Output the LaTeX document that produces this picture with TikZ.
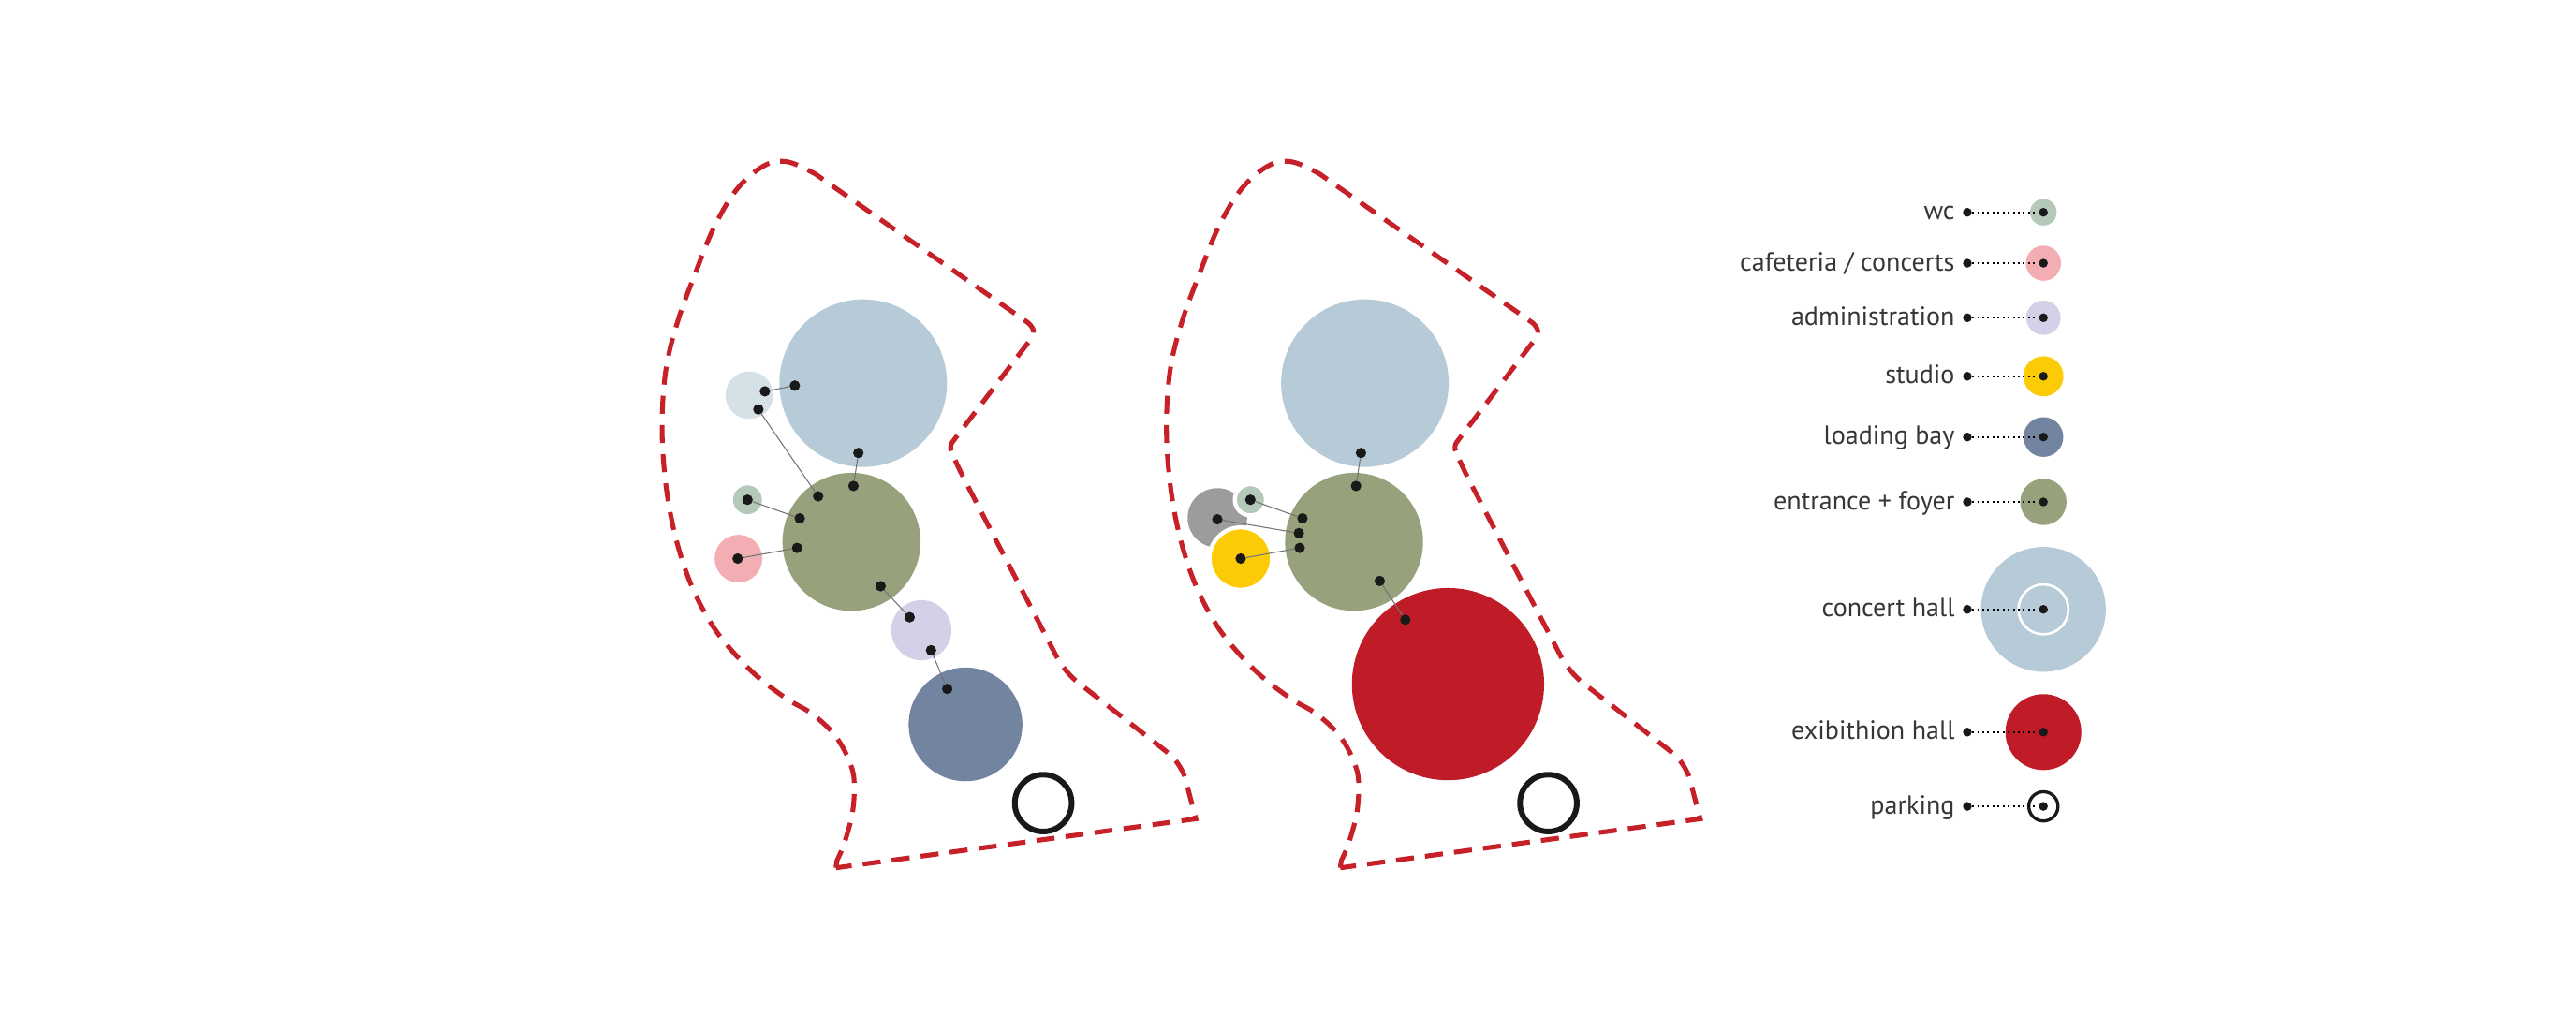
\documentclass[tikz,border=0pt]{standalone}
\usepackage{fontspec}
\setmainfont{PT Sans}
\usetikzlibrary{positioning}

\definecolor{hallblue}{HTML}{B6CAD7}
\definecolor{palehall}{HTML}{D5E1E6}
\definecolor{foyergreen}{HTML}{97A27C}
\definecolor{wcgreen}{HTML}{B5C9BA}
\definecolor{cafepink}{HTML}{F2AEB2}
\definecolor{adminlilac}{HTML}{D3D1E7}
\definecolor{loadblue}{HTML}{72849F}
\definecolor{studioyellow}{HTML}{FDCB05}
\definecolor{exhired}{HTML}{C01C28}
\definecolor{roomgrey}{HTML}{9C9C9C}
\definecolor{sitered}{HTML}{C62129}
\definecolor{textgrey}{HTML}{363636}

\begin{document}
\begin{tikzpicture}[
            x = 1pt, y = -1pt, % one unit per pixel of the sheet, y pointing down
            site/.style = {draw = sitered, line width = 2.9pt, dash pattern = on 11pt off 6.8pt},
            link/.style = {draw = black!55, line width = 0.6pt}, % connector between rooms
            leader/.style = {draw = black, line width = 1.1pt, dotted}, % legend connector
            legtext/.style = {text = textgrey, font = \fontsize{16}{18}\selectfont, inner sep = 0pt}
        ]

        \tikzstyle{room}=[
            circle,
            inner sep = 0pt
        ]
        \tikzstyle{spot}=[
            circle,
            fill = black!90,
            inner sep = 0pt,
            minimum size = 6.4pt
        ]
        \tikzstyle{parkring}=[
            circle,
            draw = black!90,
            line width = 3.4pt,
            inner sep = 0pt,
            minimum size = 34.6pt
        ]

        \useasboundingbox (0,0) rectangle (1568,627);

        % site outlines
        \foreach \dx in {0,307} {
            \draw[site, xshift = \dx pt] (508.8,528.2) -- plot[smooth, tension = 0.6] coordinates {
                (509.5,523.6) (514,513) (519,494) (519.9,475) (517.1,463.6) (511.4,452.2)
                (503.8,442.7) (492.4,433.2) (479.3,425.6) (461.6,412.3) (446.4,397.1) (433.2,380)
                (420.7,356) (411.2,326.9) (405.3,294.9) (403,260) (405.3,225.1) (412.4,196)
                (423,166.9) (434.9,137.8) (449,114.6) (465.6,100.6) (479.8,98.6) (496.3,105.9)}
                [rounded corners = 3pt] -- (628,198) -- (629.8,203.3) -- (577.8,271.6)
                [rounded corners = 10pt] -- (582.5,283.2) -- (648,409) -- (719,464.5)
                [sharp corners] -- (727.9,498.4) -- cycle;
        }

        % first scheme
        \node[room, fill = hallblue, minimum size = 102pt] (ch1) at (525.4,233.2) {};
        \node[room, fill = palehall, minimum size = 29pt] (ph1) at (456.1,240.5) {};
        \node[room, fill = foyergreen, minimum size = 84pt] (fy1) at (518.3,329.8) {};
        \node[room, fill = wcgreen, minimum size = 17.5pt] (wc1) at (455,304.2) {};
        \node[room, fill = cafepink, minimum size = 29pt] (cf1) at (449.5,340) {};
        \node[room, fill = adminlilac, minimum size = 36.6pt] (ad1) at (560.8,383.6) {};
        \node[room, fill = loadblue, minimum size = 69.2pt] (lb1) at (587.7,440.9) {};
        \node[parkring] (pk1) at (635,488.8) {};

        \node[spot] (ph1a) at (465.6,238.2) {};
        \node[spot] (ph1b) at (461.6,249.2) {};
        \node[spot] (ch1a) at (483.8,234.7) {};
        \node[spot] (ch1b) at (522.5,275.7) {};
        \node[spot] (fy1a) at (519.5,295.8) {};
        \node[spot] (fy1b) at (498,302.1) {};
        \node[spot] (fy1c) at (486.8,315.5) {};
        \node[spot] (fy1d) at (485.2,333.5) {};
        \node[spot] (fy1e) at (536,356.8) {};
        \node[spot] (wc1a) at (455,304.2) {};
        \node[spot] (cf1a) at (449,340) {};
        \node[spot] (ad1a) at (553.7,375.7) {};
        \node[spot] (ad1b) at (566.7,395.8) {};
        \node[spot] (lb1a) at (576.6,419.3) {};

        \path[link] (ph1a) edge (ch1a);
        \path[link] (ph1b) edge (fy1b);
        \path[link] (ch1b) edge (fy1a);
        \path[link] (wc1a) edge (fy1c);
        \path[link] (cf1a) edge (fy1d);
        \path[link] (fy1e) edge (ad1a);
        \path[link] (ad1b) edge (lb1a);

        % second scheme
        \node[room, fill = hallblue, minimum size = 102pt] (ch2) at (830.8,233.2) {};
        \node[room, fill = foyergreen, minimum size = 84pt] (fy2) at (824.2,329.8) {};
        \node[room, fill = roomgrey, minimum size = 36.2pt] (gr2) at (741,315.2) {};
        \node[room, fill = wcgreen, draw = white, line width = 2.5pt, minimum size = 19pt] (wc2) at (761.1,304.2) {};
        \node[room, fill = studioyellow, draw = white, line width = 2.5pt, minimum size = 38pt] (st2) at (755.2,340) {};
        \node[room, fill = exhired, minimum size = 117pt] (ex2) at (881.4,416.4) {};
        \node[parkring] (pk2) at (942.5,488.8) {};

        \node[spot] (ch2a) at (828.4,275.7) {};
        \node[spot] (fy2a) at (825.4,295.8) {};
        \node[spot] (fy2b) at (792.8,315.5) {};
        \node[spot] (fy2c) at (790.6,324.5) {};
        \node[spot] (fy2d) at (791.1,333.5) {};
        \node[spot] (fy2e) at (839.8,353.6) {};
        \node[spot] (wc2a) at (761.1,304.2) {};
        \node[spot] (gr2a) at (741,316.1) {};
        \node[spot] (st2a) at (755.2,340) {};
        \node[spot] (ex2a) at (855.4,377.2) {};

        \path[link] (ch2a) edge (fy2a);
        \path[link] (wc2a) edge (fy2b);
        \path[link] (gr2a) edge (fy2c);
        \path[link] (st2a) edge (fy2d);
        \path[link] (fy2e) edge (ex2a);

        % legend
        \node[room, fill = wcgreen, minimum size = 16.2pt] (kwc) at (1243.8,129.2) {};
        \node[room, fill = cafepink, minimum size = 21.4pt] (kcf) at (1243.8,160.2) {};
        \node[room, fill = adminlilac, minimum size = 21pt] (kad) at (1243.8,193.4) {};
        \node[room, fill = studioyellow, minimum size = 24.4pt] (kst) at (1243.8,229) {};
        \node[room, fill = loadblue, minimum size = 24.2pt] (klb) at (1243.8,266) {};
        \node[room, fill = foyergreen, minimum size = 28.2pt] (kfy) at (1243.8,305.5) {};
        \node[room, fill = hallblue, minimum size = 76pt] (kch) at (1243.8,370.9) {};
        \node[room, draw = white, line width = 1.5pt, minimum size = 30.4pt] (kchr) at (1243.8,370.9) {};
        \node[room, fill = exhired, minimum size = 46.2pt] (kex) at (1243.8,445.6) {};
        \node[room, draw = black!90, line width = 1.9pt, minimum size = 17.8pt] (kpk) at (1243.8,490.8) {};

        \node[spot, minimum size = 5.4pt] (kwca) at (1243.8,129.2) {};
        \node[spot, minimum size = 5.4pt] (kcfa) at (1243.8,160.2) {};
        \node[spot, minimum size = 5.4pt] (kada) at (1243.8,193.4) {};
        \node[spot, minimum size = 5.4pt] (ksta) at (1243.8,229) {};
        \node[spot, minimum size = 5.4pt] (klba) at (1243.8,266) {};
        \node[spot, minimum size = 5.4pt] (kfya) at (1243.8,305.5) {};
        \node[spot, minimum size = 5.4pt] (kcha) at (1243.8,370.9) {};
        \node[spot, minimum size = 5.4pt] (kexa) at (1243.8,445.6) {};
        \node[spot, minimum size = 5.4pt] (kpka) at (1243.8,490.8) {};

        \node[spot, minimum size = 5.4pt] (lwc) at (1197.5,129.2) {};
        \node[spot, minimum size = 5.4pt] (lcf) at (1197.5,160.2) {};
        \node[spot, minimum size = 5.4pt] (lad) at (1197.5,193.4) {};
        \node[spot, minimum size = 5.4pt] (lst) at (1197.5,229) {};
        \node[spot, minimum size = 5.4pt] (llb) at (1197.5,266) {};
        \node[spot, minimum size = 5.4pt] (lfy) at (1197.5,305.5) {};
        \node[spot, minimum size = 5.4pt] (lch) at (1197.5,370.9) {};
        \node[spot, minimum size = 5.4pt] (lex) at (1197.5,445.6) {};
        \node[spot, minimum size = 5.4pt] (lpk) at (1197.5,490.8) {};

        \path[leader] (lwc) edge (kwca);
        \path[leader] (lcf) edge (kcfa);
        \path[leader] (lad) edge (kada);
        \path[leader] (lst) edge (ksta);
        \path[leader] (llb) edge (klba);
        \path[leader] (lfy) edge (kfya);
        \path[leader] (lch) edge (kcha);
        \path[leader] (lex) edge (kexa);
        \path[leader] (lpk) edge (kpka);

        \node[legtext, anchor = base east] (twc) at (1190,133.8) {wc};
        \node[legtext, anchor = base east] (tcf) at (1190,164.8) {cafeteria / concerts};
        \node[legtext, anchor = base east] (tad) at (1190,198) {administration};
        \node[legtext, anchor = base east] (tst) at (1190,233.6) {studio};
        \node[legtext, anchor = base east] (tlb) at (1190,270.6) {loading bay};
        \node[legtext, anchor = base east] (tfy) at (1190,310.1) {entrance + foyer};
        \node[legtext, anchor = base east] (tch) at (1190,375.5) {concert hall};
        \node[legtext, anchor = base east] (tex) at (1190,450.2) {exibithion hall};
        \node[legtext, anchor = base east] (tpk) at (1190,495.4) {parking};
    \end{tikzpicture}
\end{document}
